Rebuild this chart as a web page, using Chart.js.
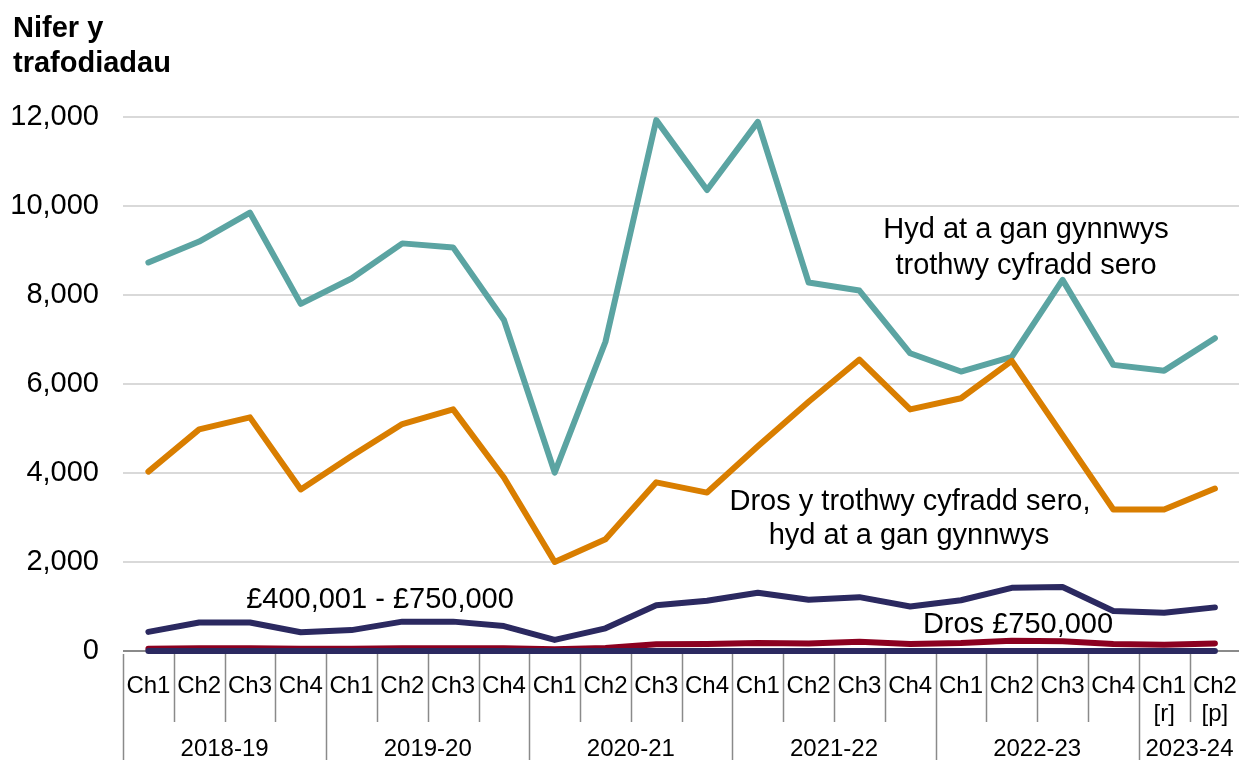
<!DOCTYPE html>
<html lang="cy">
<head>
  <meta charset="UTF-8">
  <title>Nifer y trafodiadau</title>
  <script src="https://cdn.jsdelivr.net/npm/chart.js"></script>
  <style>
    html, body { margin: 0; padding: 0; background: #fff; overflow: hidden; }
    #wrap { width: 1250px; height: 760px; }
  </style>
</head>
<body>
  <div id="wrap">
    <canvas id="chart" width="1250" height="760"></canvas>
  </div>

  <script>
    // quarter labels (multi-line where the source has [r]/[p])
    const quarters = [
      'Ch1','Ch2','Ch3','Ch4',
      'Ch1','Ch2','Ch3','Ch4',
      'Ch1','Ch2','Ch3','Ch4',
      'Ch1','Ch2','Ch3','Ch4',
      'Ch1','Ch2','Ch3','Ch4',
      ['Ch1','[r]'], ['Ch2','[p]']
    ];
    const years = ['2018-19','2019-20','2020-21','2021-22','2022-23','2023-24'];
    const yearSizes = [4, 4, 4, 4, 4, 2];
    const yTicks = [0, 2000, 4000, 6000, 8000, 10000, 12000];

    // series values
    const upToZero = [8730, 9200, 9850, 7800, 8370, 9160, 9070, 7440, 4010, 6950, 11930, 10360,
                      11890, 8280, 8100, 6690, 6280, 6610, 8340, 6430, 6300, 7030];
    const overZero = [4030, 4980, 5250, 3630, 4380, 5100, 5430, 3900, 2000, 2510, 3790, 3560,
                      4600, 5600, 6550, 5430, 5680, 6520, 4850, 3180, 3180, 3650];
    const band400to750 = [430, 640, 640, 420, 470, 660, 660, 560, 250, 510, 1030, 1130,
                          1310, 1150, 1210, 1000, 1140, 1420, 1440, 900, 860, 980];
    const over750 = [50, 60, 60, 50, 50, 60, 60, 60, 40, 70, 150, 160,
                     180, 170, 210, 160, 180, 230, 220, 160, 140, 170];
    const baseSeries = [0, 0, 0, 0, 0, 0, 0, 0, 0, 0, 0, 0,
                        0, 0, 0, 0, 0, 0, 0, 0, 0, 0];

    const FONT = '"Liberation Sans", Arial, sans-serif';

    // text labels next to the lines + title + year grouping under the axis
    const decor = {
      id: 'decor',
      afterDraw(chart) {
        const ctx = chart.ctx;
        const x = chart.scales.x;
        const area = chart.chartArea;
        const half = (x.getPixelForValue(1) - x.getPixelForValue(0)) / 2;
        ctx.save();

        // title
        ctx.fillStyle = '#000';
        ctx.font = 'bold 29px ' + FONT;
        ctx.textAlign = 'left';
        ctx.textBaseline = 'alphabetic';
        ctx.fillText('Nifer y', 13, 37);
        ctx.fillText('trafodiadau', 13, 72);

        // separators
        ctx.strokeStyle = '#8a8a8a';
        ctx.lineWidth = 1.5;
        let yearStarts = [0];
        let acc = 0;
        yearSizes.forEach(n => { acc += n; yearStarts.push(acc); });
        for (let i = 0; i <= quarters.length; i++) {
          const px = Math.round(x.getPixelForValue(i) - half) + 0.5;
          const long = yearStarts.includes(i);
          ctx.beginPath();
          ctx.moveTo(px, area.bottom + 3);
          ctx.lineTo(px, long ? 760 : 722);
          ctx.stroke();
        }

        // year labels
        ctx.font = '24px ' + FONT;
        ctx.textAlign = 'center';
        ctx.textBaseline = 'middle';
        years.forEach((yr, k) => {
          const a = x.getPixelForValue(yearStarts[k]) - half;
          const b = x.getPixelForValue(yearStarts[k + 1]) - half;
          ctx.fillText(yr, (a + b) / 2, 749);
        });

        // series annotations
        ctx.font = '29px ' + FONT;
        ctx.textBaseline = 'alphabetic';
        ctx.fillText('Hyd at a gan gynnwys', 1026, 238);
        ctx.fillText('trothwy cyfradd sero', 1026, 274);
        ctx.fillText('Dros y trothwy cyfradd sero,', 910, 510);
        ctx.fillText('hyd at a gan gynnwys', 909, 544);
        ctx.fillText('£400,001 - £750,000', 380, 608);
        ctx.fillText('Dros £750,000', 1018, 633);
        ctx.restore();
      }
    };

    const line = (label, data, color) => ({
      label, data,
      borderColor: color,
      backgroundColor: color,
      borderWidth: 6,
      pointRadius: 0,
      tension: 0,
      clip: false,
      borderCapStyle: 'round',
      borderJoinStyle: 'round',
      fill: false
    });

    new Chart(document.getElementById('chart'), {
      type: 'line',
      data: {
        labels: quarters,
        datasets: [
          line('', baseSeries, '#2b2960'),
          line('Dros £750,000', over750, '#8b0020'),
          line('£400,001 - £750,000', band400to750, '#2b2960'),
          line('Dros y trothwy cyfradd sero, hyd at a gan gynnwys', overZero, '#d97e00'),
          line('Hyd at a gan gynnwys trothwy cyfradd sero', upToZero, '#5ba4a2')
        ]
      },
      options: {
        responsive: false,
        animation: false,
        devicePixelRatio: 1,
        layout: { padding: { top: 117, right: 3, left: 0, bottom: 0 } },
        plugins: {
          legend: { display: false },
          tooltip: { enabled: false }
        },
        scales: {
          x: {
            offset: true,
            grid: { display: false },
            border: { display: false },
            ticks: {
              autoSkip: false,
              maxRotation: 0,
              padding: 13,
              color: '#000',
              font: { family: FONT, size: 24, lineHeight: 1.17 }
            },
            afterFit(s) { s.height = 109; }
          },
          y: {
            min: 0,
            max: 12000,
            afterBuildTicks(s) { s.ticks = yTicks.map(v => ({ value: v })); },
            grid: {
              drawTicks: false,
              lineWidth: 2,
              color: c => (c.tick && c.tick.value === 0) ? '#8a8a8a' : '#d9d9d9'
            },
            border: { display: false },
            ticks: {
              padding: 24,
              color: '#000',
              font: { family: FONT, size: 29 },
              callback: v => v.toLocaleString('en-GB')
            },
            afterFit(s) { s.width = 123; }
          }
        }
      },
      plugins: [decor]
    });
  </script>
</body>
</html>
